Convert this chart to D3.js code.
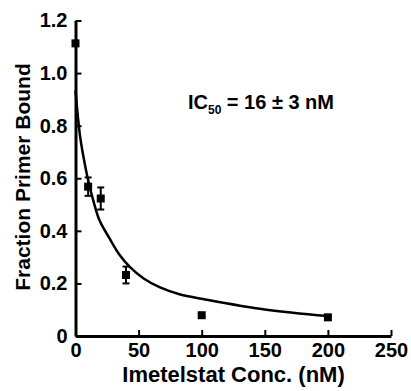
<!DOCTYPE html>
<html>
<head>
<meta charset="utf-8">
<script src="https://cdn.jsdelivr.net/npm/d3@7"></script>
<style>
  body { margin: 0; background: #fff; }
  svg { display: block; }
  text { font-family: "Liberation Sans", Arial, Helvetica, sans-serif; font-weight: bold; fill: #000; }
</style>
</head>
<body>
<div id="chart"></div>
<script>
// measured points
let conc = [0, 10, 20, 40, 100, 200];
let bound = [1.113, 0.568, 0.523, 0.232, 0.079, 0.071];
let boundErr = [0, 0.035, 0.042, 0.032, 0, 0];

// fitted curve
let fitConc = [0, 3.6, 6.2, 10, 14, 19, 27, 35, 43, 54, 67, 83, 101, 150, 200];
let fitBound = [0.934, 0.76, 0.685, 0.593, 0.517, 0.44, 0.371, 0.308, 0.263, 0.219, 0.185, 0.158, 0.141, 0.101, 0.076];

let xTicks = [0, 50, 100, 150, 200, 250];
let yTicks = [0, 0.2, 0.4, 0.6, 0.8, 1.0, 1.2];
let yTickLabels = ["0", "0.2", "0.4", "0.6", "0.8", "1.0", "1.2"];

let w = 411, h = 391;
let plotLeft = 75.5, plotRight = 391, plotTop = 20.5, plotBottom = 336;

let svg = d3.select("#chart")
    .append("svg")
    .attr("width", w)
    .attr("height", h);

let xScale = d3.scaleLinear().domain([0, 250]).range([plotLeft, plotRight]);
let yScale = d3.scaleLinear().domain([0, 1.2]).range([plotBottom, plotTop]);

let xAxis = svg.append("g")
    .attr("transform", "translate(0," + plotBottom + ")")
    .call(d3.axisBottom(xScale).tickValues(xTicks).tickFormat(d3.format("d"))
        .tickSizeInner(-6).tickSizeOuter(0).tickPadding(7));
let yAxis = svg.append("g")
    .attr("transform", "translate(" + plotLeft + ",0)")
    .call(d3.axisLeft(yScale).tickValues(yTicks).tickFormat((d, i) => yTickLabels[i])
        .tickSizeInner(-6).tickSizeOuter(0).tickPadding(8));

for (let ax of [xAxis, yAxis]) {
    ax.select(".domain").attr("stroke", "#000").attr("stroke-width", 3);
    ax.selectAll(".tick line").attr("stroke", "#000").attr("stroke-width", 2);
    ax.selectAll(".tick text").style("font-size", "20px");
}

// fit line
let line = d3.line()
    .x((d, i) => xScale(fitConc[i]))
    .y((d, i) => yScale(fitBound[i]))
    .curve(d3.curveCatmullRom.alpha(0.5));
svg.append("path")
    .datum(fitConc)
    .attr("d", line)
    .attr("fill", "none")
    .attr("stroke", "#000")
    .attr("stroke-width", 2.5);

// error bars
let capW = 3.5;
let errG = svg.append("g").attr("stroke", "#000").attr("stroke-width", 2);
conc.forEach((c, i) => {
    if (boundErr[i] == 0) return;
    let x = xScale(c);
    let y1 = yScale(bound[i] - boundErr[i]), y2 = yScale(bound[i] + boundErr[i]);
    errG.append("line").attr("x1", x).attr("x2", x).attr("y1", y1).attr("y2", y2);
    errG.append("line").attr("x1", x - capW).attr("x2", x + capW).attr("y1", y1).attr("y2", y1);
    errG.append("line").attr("x1", x - capW).attr("x2", x + capW).attr("y1", y2).attr("y2", y2);
});

// markers
let sq = 8;
svg.selectAll("rect.pt")
    .data(conc)
    .enter()
    .append("rect")
    .attr("class", "pt")
    .attr("x", (c) => xScale(c) - sq / 2)
    .attr("y", (c, i) => yScale(bound[i]) - sq / 2)
    .attr("width", sq)
    .attr("height", sq)
    .attr("fill", "#000");

// titles
svg.append("text")
    .attr("x", 233.5)
    .attr("y", 382)
    .attr("text-anchor", "middle")
    .style("font-size", "22px")
    .text("Imetelstat Conc. (nM)");
svg.append("text")
    .attr("transform", "translate(30,177) rotate(-90)")
    .attr("text-anchor", "middle")
    .style("font-size", "21px")
    .text("Fraction Primer Bound");

let ic = svg.append("text")
    .attr("x", 334)
    .attr("y", 109)
    .attr("text-anchor", "end")
    .style("font-size", "20px");
ic.append("tspan").text("IC");
ic.append("tspan").attr("dy", 5).style("font-size", "12px").text("50");
ic.append("tspan").attr("dy", -5).text(" = 16 \u00b1 3 nM");
</script>
</body>
</html>
